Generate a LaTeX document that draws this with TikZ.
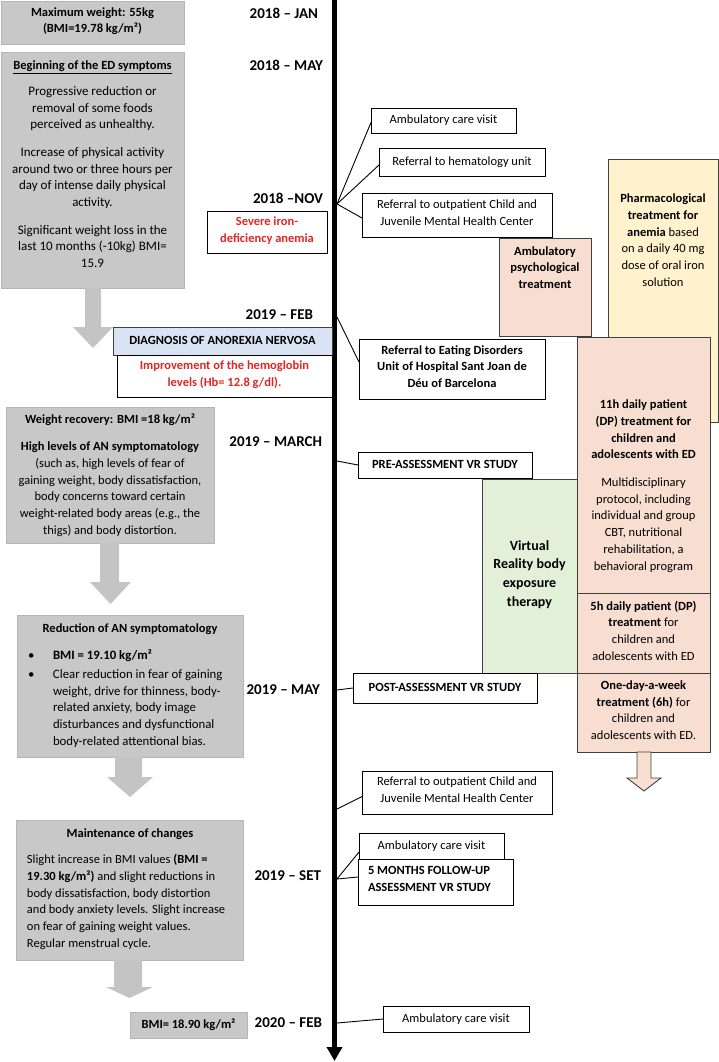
\documentclass[tikz,border=0pt]{standalone}
\usepackage{fontspec}
\setmainfont{Carlito}
\usetikzlibrary{arrows.meta}
\definecolor{peach}{RGB}{248,222,208}
\definecolor{lyellow}{RGB}{255,242,204}
\definecolor{lgreen}{RGB}{226,240,217}
\definecolor{lblue}{RGB}{218,227,243}
\definecolor{gbox}{RGB}{200,200,200}
\definecolor{gline}{RGB}{182,182,182}
\definecolor{garrow}{RGB}{196,196,196}
\definecolor{dborder}{RGB}{64,64,64}
\definecolor{redtxt}{RGB}{226,38,38}
\begin{document}
\begin{tikzpicture}[x=1pt,y=-1pt,
  every node/.style={inner sep=0pt,outer sep=0pt},
  txt/.style={font=\fontsize{12.5}{16.7}\selectfont, align=center,
    execute at begin node={\strut}, execute at end node={\strut}},
  txtb/.style={txt, font=\fontsize{12.5}{16.7}\selectfont\bfseries},
  txtl/.style={txt, align=left},
  datelbl/.style={font=\fontsize{15}{18}\selectfont\bfseries, anchor=east,
    execute at begin node={\strut}},
  boxbase/.style={anchor=north west, line width=0.9pt},
  graybox/.style={boxbase, fill=gbox, draw=gline},
  whitebox/.style={boxbase, fill=white, draw=black},
  bluebox/.style={boxbase, fill=lblue, draw=dborder},
  peachbox/.style={boxbase, fill=peach, draw=dborder},
  yellowbox/.style={boxbase, fill=lyellow, draw=dborder},
  greenbox/.style={boxbase, fill=lgreen, draw=dborder},
  redt/.style={txtb, text=redtxt},
  conn/.style={line width=0.9pt, draw=black},
  grayarrow/.style={fill=garrow},
]
\useasboundingbox (0,0) rectangle (719,1062);

% ---------- timeline ----------
\coordinate (ttop) at (334.5,0);
\coordinate (tbot) at (334.5,1061);
\draw[line width=5pt, -{Triangle[width=15pt,length=14pt]}] (ttop) -- (tbot);
\coordinate (tnov) at (337,204);
\coordinate (tfeb) at (337,317);
\coordinate (tmar) at (337,461);
\coordinate (tmay) at (337,690);
\coordinate (tjul) at (337,809);
\coordinate (tset) at (337,879);
\coordinate (tfeb20) at (337,1023);

% ---------- dates ----------
\node[datelbl] (djan) at (318,15) {2018 – JAN};
\node[datelbl] (dmay) at (323,67) {2018 – MAY};
\node[datelbl] (dnov) at (323,200) {2018 –NOV};
\node[datelbl] (dfeb) at (313,316) {2019 – FEB};
\node[datelbl] (dmar) at (322,443) {2019 – MARCH};
\node[datelbl] (dmay19) at (320,691) {2019 – MAY};
\node[datelbl] (dset) at (321,877) {2019 – SET};
\node[datelbl] (dfeb20) at (322,1024) {2020 – FEB};

% ---------- left gray column ----------
\node[graybox, txtb, minimum width=183, minimum height=43] (maxw) at (1,1)
  {Maximum weight: 55kg\\(BMI=19.78 kg/m²)};

\node[graybox, minimum width=183, minimum height=236] (ed) at (1,52) {};
\node[txt] (edH) at (92.5,66) {\underline{\textbf{Beginning of the ED symptoms}}};
\node[txt, font=\fontsize{13}{16.7}\selectfont] (edT) at (92.5,179.5) {Progressive reduction or\\removal of some foods\\perceived as unhealthy.\\[11pt]
  Increase of physical activity\\around two or three hours per\\day of intense daily physical\\activity.\\[11pt]
  Significant weight loss in the\\last 10 months (-10kg) BMI=\\15.9};

\fill[grayarrow] (85,288) -- (101,288) -- (101,327) -- (113,327) -- (93,348) -- (73,327) -- (85,327) -- cycle;

\node[graybox, minimum width=208, minimum height=136] (wr) at (6,407) {};
\node[txt] (wrT) at (110,476.5) {\textbf{Weight recovery: BMI =18 kg/m²}\\[10.5pt]
  \textbf{High levels of AN symptomatology}\\(such as, high levels of fear of\\gaining weight, body dissatisfaction,\\body concerns toward certain\\weight-related body areas (e.g., the\\thigs) and body distortion.};

\fill[grayarrow] (100,543) -- (119,543) -- (119,582) -- (131,582) -- (110.5,604) -- (90,582) -- (100,582) -- cycle;

\node[graybox, minimum width=226, minimum height=142] (rd) at (17,615) {};
\node[txtb] (rdT) at (130,629) {Reduction of AN symptomatology};
\node[txtl, anchor=west, font=\fontsize{12.8}{16.7}\selectfont] (rdL) at (28,700) {\makebox[25pt][l]{•}\textbf{BMI = 19.10 kg/m²}\\[2.3pt]
  \makebox[25pt][l]{•}Clear reduction in fear of gaining\\
  \hspace*{25pt}weight, drive for thinness, body-\\
  \hspace*{25pt}related anxiety, body image\\
  \hspace*{25pt}disturbances and dysfunctional\\
  \hspace*{25pt}body-related attentional bias.};

\fill[grayarrow] (115,757) -- (142,757) -- (142,777) -- (153,777) -- (130,797) -- (107,777) -- (115,777) -- cycle;

\node[graybox, minimum width=227, minimum height=140] (mc) at (16,820) {};
\node[txtb] (mcT) at (130,834) {Maintenance of changes};
\node[txtl, anchor=west] (mcL) at (27,903.5) {Slight increase in BMI values \textbf{(BMI =}\\
  \textbf{19.30 kg/m²)} and slight reductions in\\body dissatisfaction, body distortion\\
  and body anxiety levels. Slight increase\\on fear of gaining weight values.\\Regular menstrual cycle.};

\fill[grayarrow] (114,960) -- (142,960) -- (142,987) -- (153,987) -- (129.5,998) -- (106,987) -- (114,987) -- cycle;

\node[graybox, txtb, minimum width=117, minimum height=26] (bmi) at (130,1012) {BMI= 18.90 kg/m²};

% ---------- left notes ----------
\node[whitebox, redt, minimum width=120, minimum height=42] (sev) at (207,211) {Severe iron-\\deficiency anemia};
\node[bluebox, txtb, minimum width=219, minimum height=28] (diag) at (113,327) {DIAGNOSIS OF ANOREXIA NERVOSA};
\node[whitebox, redt, minimum width=215, minimum height=42] (hb) at (117,355) {Improvement of the hemoglobin\\levels (Hb= 12.8 g/dl).};

% ---------- right side colored blocks ----------
\node[yellowbox, minimum width=110, minimum height=263] (pharm) at (608,159) {};
\node[txt] (pharmT) at (663,242.5) {\textbf{Pharmacological}\\\textbf{treatment for}\\\textbf{anemia} based\\on a daily 40 mg\\dose of oral iron\\solution};

\node[peachbox, minimum width=92, minimum height=98] (psych) at (499,238) {};
\node[txtb] (psychT) at (545,270) {Ambulatory\\psychological\\treatment};

\node[peachbox, minimum width=133, minimum height=256] (dp11) at (577,337) {};
\node[txt] (dp11T) at (643.5,487.5) {\textbf{11h daily patient}\\\textbf{(DP) treatment for}\\\textbf{children and}\\\textbf{adolescents with ED}\\[11pt]
  Multidisciplinary\\protocol, including\\individual and group\\CBT, nutritional\\rehabilitation, a\\behavioral program};
\node[peachbox, txt, minimum width=133, minimum height=80] (dp5) at (577,593)
  {\textbf{5h daily patient (DP)}\\\textbf{treatment} for\\children and\\adolescents with ED};
\node[peachbox, txt, minimum width=133, minimum height=79] (odw) at (577,673)
  {\textbf{One-day-a-week}\\\textbf{treatment (6h)} for\\children and\\adolescents with ED.};
\draw[fill=peach, draw=dborder, line width=0.9pt] (637,752) -- (651,752) -- (651,778) -- (661,778) -- (644,791) -- (627,778) -- (637,778) -- cycle;

\node[greenbox, minimum width=95, minimum height=194, font=\fontsize{14}{18.7}\selectfont\bfseries, align=center,
  execute at begin node={\strut}, execute at end node={\strut}] (vr) at (482,479) {Virtual\\Reality body\\exposure\\therapy};

% ---------- right event boxes ----------
\node[whitebox, txt, minimum width=145, minimum height=25] (amb1) at (371,108) {Ambulatory care visit};
\node[whitebox, txt, minimum width=166, minimum height=28] (hem) at (379,148) {Referral to hematology unit};
\node[whitebox, txt, minimum width=190, minimum height=44] (out1) at (362,193) {Referral to outpatient Child and\\Juvenile Mental Health Center};
\node[whitebox, txtb, minimum width=186, minimum height=60] (sjd) at (359,339) {Referral to Eating Disorders\\Unit of Hospital Sant Joan de\\Déu of Barcelona};
\node[whitebox, txtb, minimum width=174, minimum height=26] (pre) at (358,452) {PRE-ASSESSMENT VR STUDY};
\node[whitebox, txtb, minimum width=184, minimum height=30] (post) at (353,673) {POST-ASSESSMENT VR STUDY};
\node[whitebox, txt, minimum width=190, minimum height=43] (out2) at (362,771) {Referral to outpatient Child and\\Juvenile Mental Health Center};
\node[whitebox, txt, minimum width=145, minimum height=26] (amb2) at (359,833) {Ambulatory care visit};
\node[whitebox, minimum width=155, minimum height=46] (fu) at (358,859) {};
\node[txtb, align=left, anchor=west] (fuT) at (368,881.5) {5 MONTHS FOLLOW-UP\\ASSESSMENT VR STUDY};
\node[whitebox, txt, minimum width=146, minimum height=26] (amb3) at (383,1006) {Ambulatory care visit};

% ---------- connectors ----------
\draw[conn] (tnov) -- ([yshift=-2pt]amb1.west);
\draw[conn] (tnov) -- ([yshift=-3pt]hem.west);
\draw[conn] (tnov) -- ([yshift=-3pt]out1.west);
\draw[conn] (tfeb) -- ([yshift=7pt]sjd.west);
\draw[conn] (tmar) -- (pre.west);
\draw[conn] (tmay) -- (post.west);
\draw[conn] (tjul) -- ([yshift=-4pt]out2.west);
\draw[conn] (tset) -- ([yshift=-6pt]amb2.west);
\draw[conn] (tset) -- ([yshift=5pt]fu.west);
\draw[conn] (tfeb20) -- (amb3.west);
\end{tikzpicture}
\end{document}
